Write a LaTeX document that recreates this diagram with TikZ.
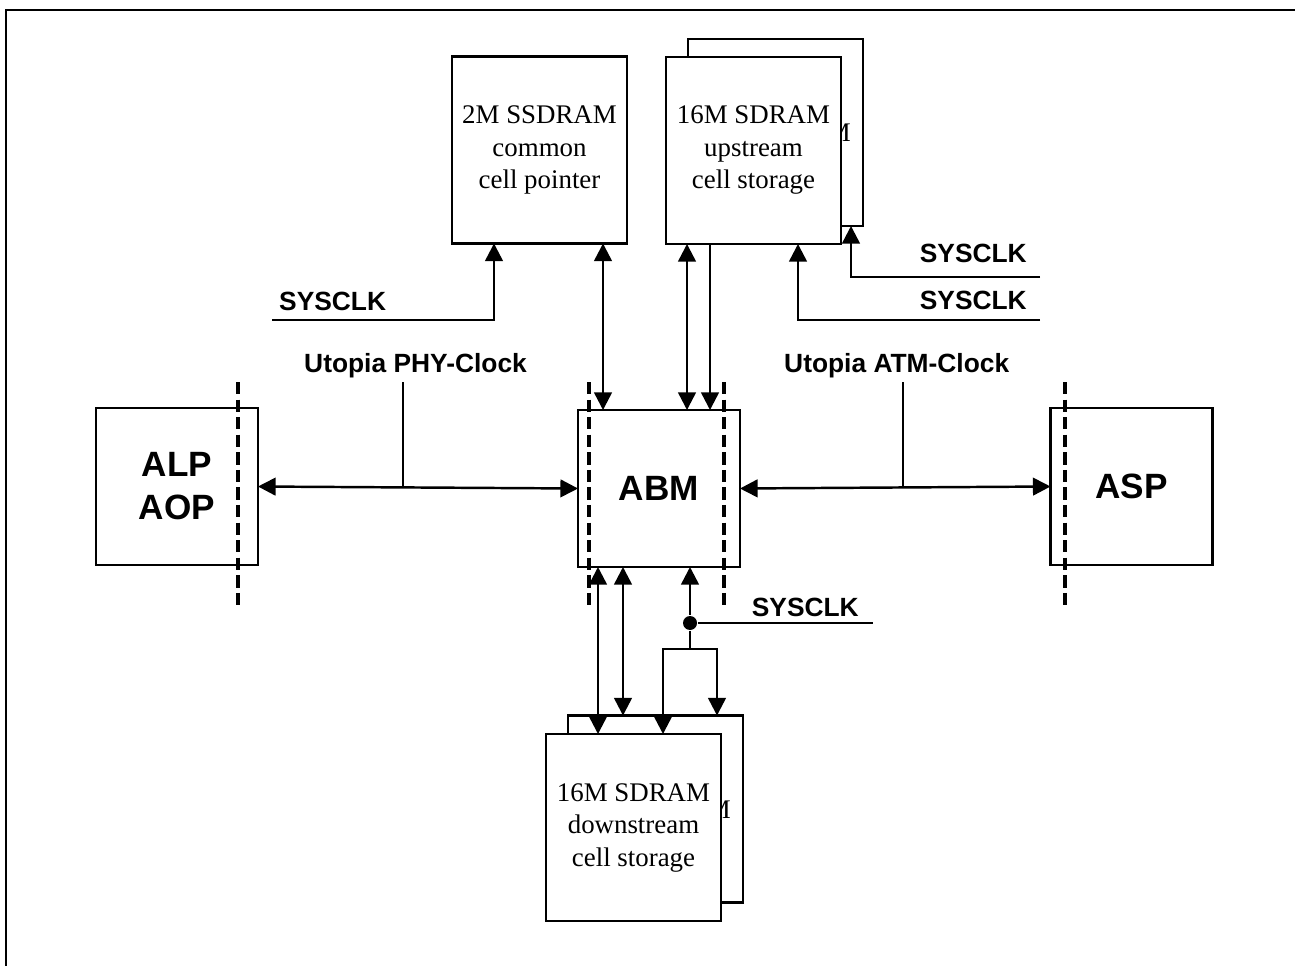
\documentclass[tikz,border=0pt]{standalone}
\usepackage{fontspec}
\setmainfont{Liberation Serif}
\setsansfont{Liberation Sans}
\usetikzlibrary{shapes,arrows,arrows.meta,positioning}

\begin{document}
\begin{tikzpicture}[
    x=0.02cm, y=-0.02cm,
    line width=1.4pt,
    mem/.style={rectangle, draw=black, fill=white, inner sep=0pt, outer sep=0pt, minimum width=3.5cm, minimum height=3.74cm, align=center, font=\fontsize{15.3}{18.5}\selectfont},
    mem_text/.style={inner sep=0pt, font=\fontsize{15.3}{18.5}\selectfont},
    unit/.style={rectangle, draw=black, fill=white, inner sep=0pt, outer sep=0pt, minimum width=3.24cm, minimum height=3.14cm, align=center, font=\sffamily\bfseries\fontsize{20}{24.4}\selectfont},
    clk_label/.style={inner sep=0pt, font=\sffamily\bfseries\fontsize{15}{18}\selectfont},
    arrow/.style={-{Triangle[length=10pt,width=10pt]}},
    dbl_arrow/.style={{Triangle[length=10pt,width=10pt]}-{Triangle[length=10pt,width=10pt]}},
    cut_line/.style={line width=2pt, dash pattern=on 7pt off 3pt},
    dot/.style={circle, fill=black, inner sep=0pt, minimum size=0.28cm}
]
\useasboundingbox (0,0) rectangle (1295,966);
% Frame
\draw[line width=1.7pt] (6,966) -- (6,10) -- (1295,10);
% Memories (back copies first)
\node[mem] (upback) at (775.5,132.5) {};
\begin{scope}
  \clip (upback.north east) rectangle (841,300);
  \node[mem_text, anchor=base east] (upbackm) at (852,142) {M};
\end{scope}
\node[mem] (upfront) at (753.5,150.5) {16M SDRAM\\upstream\\cell storage};
\node[mem] (ssdram) at (539.5,150) {2M SSDRAM\\common\\cell pointer};
\node[mem] (dback) at (655.5,809) {};
\begin{scope}
  \clip (dback.north east) rectangle (721,950);
  \node[mem_text, anchor=base east] (dbackm) at (732,818) {M};
\end{scope}
\node[mem] (dfront) at (633.5,827.5) {16M SDRAM\\downstream\\cell storage};
% Units
\node[unit] (alp) at (177,486.5) {ALP\\AOP};
\node[unit] (abm) at (659,488.5) {ABM};
\node[unit] (asp) at (1131.5,486.5) {ASP};
% Interface cuts
\draw[cut_line] (238,382) -- (238,610);
\draw[cut_line] (589,382) -- (589,610);
\draw[cut_line] (724,382) -- (724,610);
\draw[cut_line] (1065,382) -- (1065,610);
% Labels
\node[clk_label, anchor=base west] (clkssdtext) at (278,311) {SYSCLK};
\node[clk_label, anchor=base east] (clkupatext) at (1028,263) {SYSCLK};
\node[clk_label, anchor=base east] (clkupbtext) at (1028,310) {SYSCLK};
\node[clk_label, anchor=base east] (clkdowntext) at (860,616) {SYSCLK};
\node[clk_label, anchor=base west] (phytext) at (303,372) {Utopia PHY-Clock};
\node[clk_label, anchor=base west] (atmtext) at (783,372) {Utopia ATM-Clock};
% Utopia buses
\draw[dbl_arrow] (alp.east) -- (abm.west);
\draw[dbl_arrow] (abm.east) -- (asp.west);
\coordinate (phytick) at (403,382);
\coordinate (atmtick) at (903,382);
\draw (phytick) -- (phytick |- alp.east);
\draw (atmtick) -- (atmtick |- asp.west);
% Memory buses
\draw[dbl_arrow] (603,0 |- ssdram.south) -- (603,0 |- abm.north);
\draw[dbl_arrow] (687,0 |- upfront.south) -- (687,0 |- abm.north);
\draw[arrow] (710,0 |- upfront.south) -- (710,0 |- abm.north);
\draw[dbl_arrow] (598,0 |- abm.south) -- (598,0 |- dfront.north);
\draw[dbl_arrow] (623,0 |- abm.south) -- (623,0 |- dback.north);
% Clocks
\coordinate (clkssd) at (272,320);
\coordinate (clkupa) at (1040,277);
\coordinate (clkupb) at (1040,320);
\draw[arrow] (clkssd) -| (494,0 |- ssdram.south);
\draw[arrow] (clkupa) -| (851,0 |- upback.south);
\draw[arrow] (clkupb) -| (798,0 |- upfront.south);
\node[dot] (clkdot) at (690,623) {};
\coordinate (clkdown) at (873,623);
\coordinate (fork) at (690,649);
\draw (clkdot) -- (clkdown);
\draw[arrow] (clkdot) -- (clkdot |- abm.south);
\draw (clkdot) -- (fork);
\draw[arrow] (fork) -| (663,0 |- dfront.north);
\draw[arrow] (fork) -| (717,0 |- dback.north);
\end{tikzpicture}
\end{document}
